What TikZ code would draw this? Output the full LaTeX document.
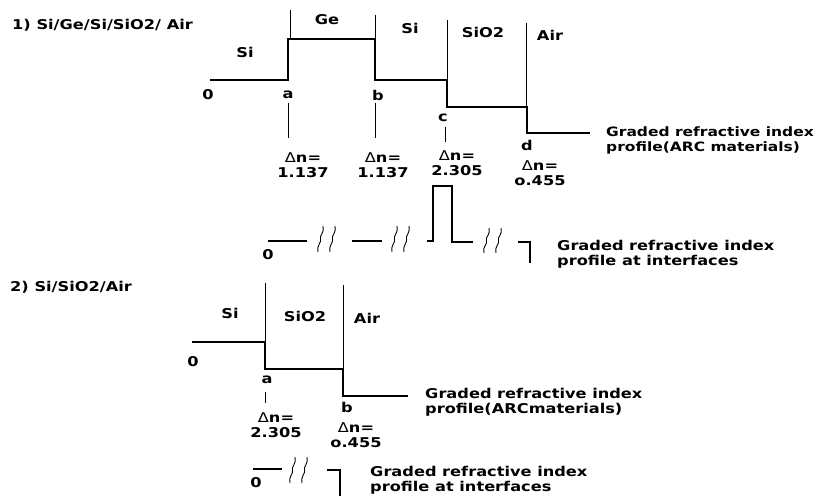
\documentclass[tikz,border=0pt]{standalone}
\usepackage{fontspec}
\setmainfont{DejaVu Sans}[FakeStretch=1.2]
\newcommand{\wavypair}[4]{% x, ytop, ybottom, gap
  \foreach \dx in {0,#4}{
    \draw[wav] ({#1+\dx+5},#2) .. controls ({#1+\dx+7},{#2+6}) and ({#1+\dx+1},{(#2+#3)/2-3}) .. ({#1+\dx+2.5},{(#2+#3)/2})
      .. controls ({#1+\dx+4},{(#2+#3)/2+3}) and ({#1+\dx-2},{#3-6}) .. ({#1+\dx},#3);
  }}
\begin{document}
\begin{tikzpicture}[x=1pt,y=-1pt,
  thinline/.style={line width=1pt},
  thickline/.style={line width=2.4pt},
  ifline/.style={line width=2pt},
  wav/.style={line width=0.9pt},
  lbl/.style={font=\bfseries\fontsize{13.5}{15}\selectfont, inner sep=0pt},
  lblw/.style={lbl, anchor=west, align=left, font=\bfseries\fontsize{13.5}{15}\selectfont},
  dn/.style={lbl, align=center, font=\bfseries\fontsize{13.5}{15.5}\selectfont}]
\useasboundingbox (0,0) rectangle (816,498);

% ---------- Diagram 1 ----------
\node[lblw] (t1) at (12,25) {1) Si/Ge/Si/SiO2/ Air};
\draw[thickline] (210,80) -- (288,80) -- (288,39) -- (375,39) -- (375,80) -- (447,80) -- (447,107) -- (527,107) -- (527,133) -- (590,133);
\draw[thinline] (290,10) -- (290,39);
\draw[thinline] (375,15) -- (375,39);
\draw[thinline] (447,20) -- (447,80);
\draw[thinline] (526,23) -- (526,107);

\node[lbl] (si1) at (245,52) {Si};
\node[lbl] (ge1) at (327,20) {Ge};
\node[lbl] (si2) at (410,28) {Si};
\node[lbl] (sio1) at (483,32) {SiO2};
\node[lbl] (air1) at (550,35) {Air};

\node[lbl] (z1) at (208,95) {0};
\node[lbl] (a1) at (288,95) {a};
\node[lbl] (b1) at (378,95) {b};
\node[lbl] (c1) at (443,118) {c};
\node[lbl] (d1) at (527,145) {d};

\draw[thinline] (288,103) -- (288,138);
\draw[thinline] (375,103) -- (375,138);
\draw[thinline] (445,127) -- (445,142);

\node[dn] (dna1) at (303,165) {{\mdseries Δ}n=\\1.137};
\node[dn] (dnb1) at (383,165) {{\mdseries Δ}n=\\1.137};
\node[dn] (dnc1) at (457,163) {{\mdseries Δ}n=\\2.305};
\node[dn] (dnd1) at (540,173) {{\mdseries Δ}n=\\o.455};

\node[lblw, font=\bfseries\fontsize{12.9}{15}\selectfont] (g1) at (606,140) {Graded refractive index\\profile(ARC materials)};

% interface row 1
\draw[ifline] (268,241) -- (307,241);
\draw[ifline] (352,241) -- (382,241);
\draw[ifline] (427,241) -- (433,241) -- (433,186) -- (452,186) -- (452,242) -- (473,242);
\draw[ifline] (518,242) -- (530,242) -- (530,263);
\wavypair{318}{226}{252}{12}
\wavypair{392}{226}{252}{12}
\wavypair{484}{228}{253}{12}
\node[lbl] (z1b) at (268,255) {0};
\node[lblw] (g1b) at (557,254) {Graded refractive index\\profile at interfaces};

% ---------- Diagram 2 ----------
\node[lblw] (t2) at (10,287) {2) Si/SiO2/Air};
\draw[thickline] (192,342) -- (265,342) -- (265,369) -- (343,369) -- (343,396) -- (408,396);
\draw[thinline] (265,283) -- (265,342);
\draw[thinline] (343,285) -- (343,369);

\node[lbl] (si3) at (230,313) {Si};
\node[lbl] (sio2) at (305,316) {SiO2};
\node[lbl] (air2) at (367,318) {Air};

\node[lbl] (z2) at (193,362) {0};
\node[lbl] (a2) at (267,380) {a};
\node[lbl] (b2) at (347,407) {b};
\draw[thinline] (265,392) -- (265,403);

\node[dn] (dna2) at (276,425) {{\mdseries Δ}n=\\2.305};
\node[dn] (dnb2) at (356,435) {{\mdseries Δ}n=\\o.455};

\node[lblw] (g2) at (425,402) {Graded refractive index\\profile(ARCmaterials)};

% interface row 2
\draw[ifline] (253,469) -- (282,469);
\draw[ifline] (327,470) -- (340,470) -- (340,496);
\wavypair{290}{457}{483}{12}
\node[lbl] (z2b) at (256,483) {0};
\node[lblw] (g2b) at (370,480) {Graded refractive index\\profile at interfaces};
\end{tikzpicture}
\end{document}
